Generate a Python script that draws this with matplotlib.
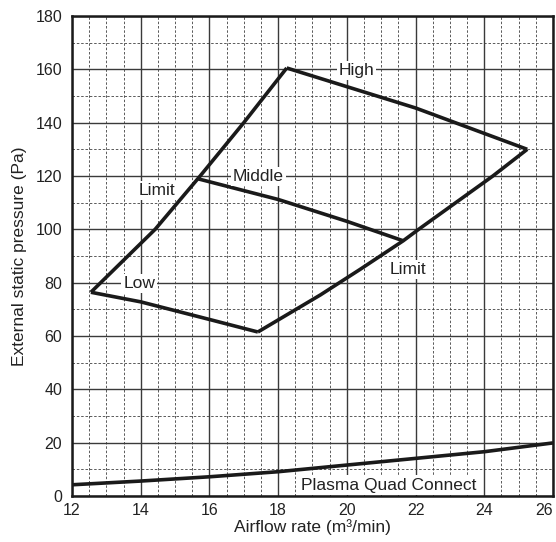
import matplotlib
matplotlib.use("Agg")
import matplotlib.pyplot as plt
from matplotlib.ticker import MultipleLocator

plt.rcParams['font.family'] = ['Liberation Sans', 'DejaVu Sans']

# Data (airflow m3/min, pressure Pa)
limit_left_x = [12.55, 14.42, 15.73, 17.0, 18.25]
limit_left_y = [76.4, 100.0, 120.0, 140.0, 160.5]

high_x = [18.25, 22.0, 25.25]
high_y = [160.5, 145.5, 130.0]

limit_right_x = [25.25, 24.25, 22.09, 21.64, 20.4, 19.23, 17.41]
limit_right_y = [130.0, 120.0, 100.0, 95.7, 85.1, 75.4, 61.5]

low_x = [17.41, 16.0, 14.0, 12.55]
low_y = [61.5, 66.2, 72.8, 76.4]

middle_x = [15.68, 18.0, 20.0, 21.64]
middle_y = [118.9, 111.2, 103.0, 95.7]

plasma_x = [12, 14, 16, 18, 20, 22, 24, 26]
plasma_y = [4.2, 5.6, 7.2, 9.1, 11.6, 14.1, 16.6, 19.9]

labels = ["High", "Middle", "Low", "Limit", "Limit", "Plasma Quad Connect"]
label_x = [20.28, 17.43, 13.96, 14.47, 21.79, 21.22]
label_y = [159.7, 119.7, 79.7, 114.5, 85.0, 4.1]

x_ticks = [12, 14, 16, 18, 20, 22, 24, 26]
y_ticks = [0, 20, 40, 60, 80, 100, 120, 140, 160, 180]

fig = plt.figure(figsize=(5.56, 5.42), dpi=100)
ax = fig.add_axes([0.1295, 0.0849, 0.8651, 0.8856])

ax.set_xlim(12, 26)
ax.set_ylim(0, 180)
ax.set_xticks(x_ticks)
ax.set_yticks(y_ticks)
ax.xaxis.set_minor_locator(MultipleLocator(0.5))
ax.yaxis.set_minor_locator(MultipleLocator(10))

ax.grid(which='major', color='#3a3a3a', linestyle='-', linewidth=1.0, zorder=1)
ax.grid(which='minor', color='#404040', linestyle=(0, (3, 2.2)), linewidth=0.6, zorder=1)
ax.set_axisbelow(True)

ax.tick_params(which='both', length=0)
ax.tick_params(axis='x', labelsize=11.5, pad=5, colors='#222222')
ax.tick_params(axis='y', labelsize=11.5, pad=7, colors='#222222')

xt = ax.get_xticklabels()
xt[-1].set_horizontalalignment('right')
xt[-1].set_x(xt[-1].get_position()[0])

for s in ax.spines.values():
    s.set_linewidth(1.8)
    s.set_color('#1a1a1a')

lw = 2.6
col = '#1a1a1a'
for xs, ys in [(limit_left_x, limit_left_y), (high_x, high_y),
               (limit_right_x, limit_right_y), (low_x, low_y),
               (middle_x, middle_y), (plasma_x, plasma_y)]:
    ax.plot(xs, ys, color=col, linewidth=lw, solid_joinstyle='miter',
            solid_capstyle='butt', zorder=3)

for t, x, y in zip(labels, label_x, label_y):
    ax.text(x, y, t, ha='center', va='center', fontsize=12.5, color='#222222',
            zorder=4, bbox=dict(facecolor='white', edgecolor='none', pad=1.5))

ax.set_xlabel("Airflow rate (m³/min)", fontsize=12.5, color='#222222', labelpad=1)
ax.set_ylabel("External static pressure (Pa)", fontsize=12.5, color='#222222', labelpad=6)

fig.savefig("out.png", dpi=100)
